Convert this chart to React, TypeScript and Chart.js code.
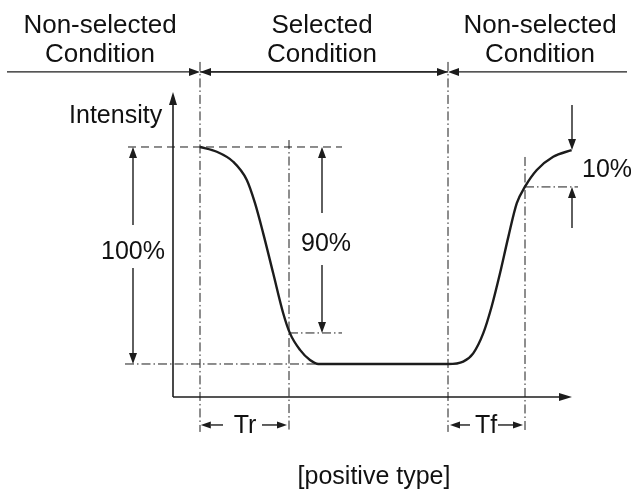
import React, { useEffect, useRef } from "react";
import { Chart, registerables } from "chart.js";

Chart.register(...registerables);

// ---- Data (time in arbitrary units, intensity in %) ----
const timeValues = [0, 4.2, 8.3, 11.7, 13.75, 15.8, 18.3, 20.8, 22.5, 25, 27.5, 29.6, 62, 65.8, 68.3, 70.8, 72.9, 75, 77.1, 79.2, 81.25, 84.2, 88.3, 92.9];
const intensityValues = [100, 97.8, 93.2, 84.8, 74.1, 60.2, 41.8, 23.4, 14.1, 6.5, 1.8, 0, 0, 1.1, 4.9, 14.1, 26.4, 41.8, 58.7, 74.1, 81.7, 89.4, 95.5, 98.6];

// key instants
const T_ON = 0;
const T_RISE_END = 22.25;
const T_OFF = 62;
const T_FALL_END = 81.25;
const T_END = 93;

// key levels
const I_TOP = 100;
const I_BOTTOM = 0;
const I_90 = 14.3;
const I_10 = 81.6;
const I_END = 98.6;

// labels
const headerLabels = [
  ["Non-selected", "Condition"],
  ["Selected", "Condition"],
  ["Non-selected", "Condition"],
];
const yAxisLabel = "Intensity";
const caption = "[positive type]";

// scale extents
const X_MIN = -50;
const X_MAX = 107.75;
const Y_MIN = -59.45;
const Y_MAX = 167.74;

const FONT = '"Liberation Sans", Arial, Helvetica, sans-serif';
const INK = "#1c1c1c";

const annotationPlugin = {
  id: "annot",
  afterDraw(chart: any) {
    const ctx: CanvasRenderingContext2D = chart.ctx;
    const xs = chart.scales.x;
    const ys = chart.scales.y;
    const X = (t: number) => xs.getPixelForValue(t);
    const Y = (v: number) => ys.getPixelForValue(v);

    const line = (x1: number, y1: number, x2: number, y2: number, dash: number[] = [], w = 1.2) => {
      ctx.save();
      ctx.strokeStyle = INK;
      ctx.lineWidth = w;
      ctx.setLineDash(dash);
      ctx.beginPath();
      ctx.moveTo(x1, y1);
      ctx.lineTo(x2, y2);
      ctx.stroke();
      ctx.restore();
    };
    const arrow = (x1: number, y1: number, x2: number, y2: number, w = 1.4, len = 11, half = 4) => {
      const ang = Math.atan2(y2 - y1, x2 - x1);
      const bx = x2 - Math.cos(ang) * len;
      const by = y2 - Math.sin(ang) * len;
      line(x1, y1, bx, by, [], w);
      ctx.save();
      ctx.fillStyle = INK;
      ctx.beginPath();
      ctx.moveTo(x2, y2);
      ctx.lineTo(bx + Math.sin(ang) * half, by - Math.cos(ang) * half);
      ctx.lineTo(bx - Math.sin(ang) * half, by + Math.cos(ang) * half);
      ctx.closePath();
      ctx.fill();
      ctx.restore();
    };
    const text = (s: string, t: number, v: number, size = 25, align: CanvasTextAlign = "center") => {
      ctx.save();
      ctx.fillStyle = "#111";
      ctx.font = `${size}px ${FONT}`;
      ctx.textAlign = align;
      ctx.textBaseline = "alphabetic";
      ctx.fillText(s, X(t), Y(v));
      ctx.restore();
    };

    const DASHDOT = [9, 3, 1.5, 3];
    const DASH = [8, 5];

    // top condition line with arrowheads
    const yTop = Y(134.6);
    arrow(X(-48.25), yTop, X(T_ON), yTop, 1.3, 11, 4);
    arrow(X(T_OFF), yTop, X(T_ON), yTop, 1.3, 11, 4);
    arrow(X(T_ON), yTop, X(T_OFF), yTop, 1.3, 11, 4);
    arrow(X(106.75), yTop, X(T_OFF), yTop, 1.3, 11, 4);

    // vertical guides
    line(X(T_ON), Y(139.2), X(T_ON), Y(-31.3), DASHDOT, 1);
    line(X(T_OFF), Y(139.2), X(T_OFF), Y(-31.3), DASHDOT, 1);
    line(X(T_RISE_END), Y(103.2), X(T_RISE_END), Y(-31.3), DASHDOT, 1);
    line(X(T_FALL_END), Y(95.4), X(T_FALL_END), Y(-31.3), DASHDOT, 1);

    // horizontal guides
    line(X(-18), Y(I_TOP), X(35.5), Y(I_TOP), DASH, 1);
    line(X(-18.75), Y(I_BOTTOM), X(29.5), Y(I_BOTTOM), DASHDOT, 1);
    line(X(T_RISE_END), Y(I_90), X(35.5), Y(I_90), DASHDOT, 1);
    line(X(T_FALL_END), Y(I_10), X(94.5), Y(I_10), DASHDOT, 1);

    // axes
    const ox = X(-6.75);
    const oy = Y(-15.2);
    arrow(ox, oy, ox, Y(125.3), 1.6, 13, 4);
    arrow(ox, oy, X(T_END), oy, 1.6, 13, 4);

    // 100% dimension
    arrow(X(-16.75), Y(64.1), X(-16.75), Y(I_TOP), 1.4);
    arrow(X(-16.75), Y(44.2), X(-16.75), Y(I_BOTTOM), 1.4);
    text("100%", -16.75, 48.4);

    // 90% dimension
    arrow(X(30.5), Y(69.6), X(30.5), Y(I_TOP), 1.4);
    arrow(X(30.5), Y(45.6), X(30.5), Y(I_90), 1.4);
    text("90%", 31.5, 52.1);

    // 10% dimension
    arrow(X(T_END), Y(119.4), X(T_END), Y(I_END), 1.4);
    arrow(X(T_END), Y(62.7), X(T_END), Y(I_10), 1.4);
    text("10%", 95.5, 86.2, 25, "left");

    // Tr / Tf
    const yT = Y(-28.1);
    arrow(X(5.75), yT, X(0.2), yT, 1.4, 10, 3.5);
    arrow(X(15.5), yT, X(21.75), yT, 1.4, 10, 3.5);
    text("Tr", 11.25, -31.8);
    arrow(X(67.5), yT, X(62.5), yT, 1.4, 10, 3.5);
    arrow(X(74.5), yT, X(80.75), yT, 1.4, 10, 3.5);
    text("Tf", 71.5, -31.8);

    // labels
    text(yAxisLabel, -21.1, 111.1);
    const headerCenters = [-25, 30.5, 85];
    headerLabels.forEach((lines, i) => {
      text(lines[0], headerCenters[i], 152.5, 26);
      text(lines[1], headerCenters[i], 139.2, 26);
    });
    text(caption, 43.5, -55.3);
  },
};

export default function App() {
  const ref = useRef<HTMLCanvasElement | null>(null);
  useEffect(() => {
    if (!ref.current) return;
    const chart = new Chart(ref.current, {
      type: "scatter",
      data: {
        datasets: [
          {
            data: timeValues.map((t, i) => ({ x: t, y: intensityValues[i] })),
            showLine: true,
            borderColor: INK,
            borderWidth: 2.4,
            pointRadius: 0,
            cubicInterpolationMode: "monotone",
            fill: false,
          } as any,
        ],
      },
      options: {
        animation: false,
        responsive: false,
        devicePixelRatio: 1,
        layout: { padding: 0 },
        plugins: { legend: { display: false }, tooltip: { enabled: false }, title: { display: false } },
        scales: {
          x: { type: "linear", min: X_MIN, max: X_MAX, display: false },
          y: { type: "linear", min: Y_MIN, max: Y_MAX, display: false },
        },
      },
      plugins: [annotationPlugin],
    });
    return () => chart.destroy();
  }, []);
  return (
    <div style={{ position: "absolute", left: 0, top: 0, width: 631, height: 493, background: "#fff" }}>
      <canvas ref={ref} width={631} height={493} style={{ display: "block" }} />
    </div>
  );
}
